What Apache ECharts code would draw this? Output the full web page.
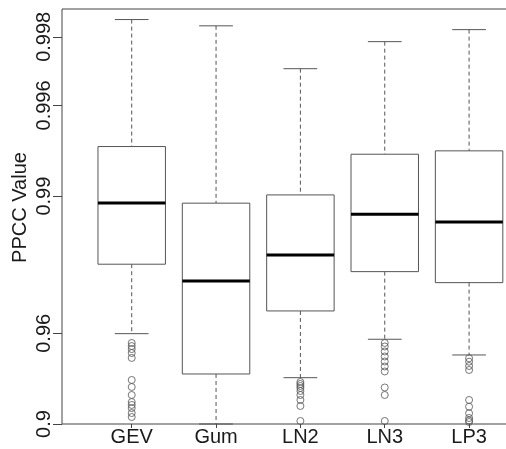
<!DOCTYPE html>
<html><head><meta charset="utf-8">
<script src="https://cdn.jsdelivr.net/npm/echarts@6/dist/echarts.min.js"></script>
<style>html,body{margin:0;padding:0;background:#fff}#c{width:506px;height:449px}</style>
</head><body><div id="c"></div>
<script>
// ---- data (PPCC values) ----
const categories = ['GEV', 'Gum', 'LN2', 'LN3', 'LP3'];
const whiskerLow  = [0.95986, 0.90000, 0.93738, 0.95752, 0.95022];
const quartile1   = [0.98010, 0.93967, 0.96809, 0.97855, 0.97603];
const medians     = [0.98929, 0.97644, 0.98188, 0.98799, 0.98702];
const quartile3   = [0.99394, 0.98926, 0.99012, 0.99345, 0.99367];
const whiskerHigh = [0.99832, 0.99821, 0.99724, 0.99790, 0.99814];
const outliersGEV = [0.9559, 0.9545, 0.9531, 0.9512, 0.9487, 0.9359, 0.9312, 0.9254, 0.9199, 0.9175, 0.9149, 0.9105, 0.9068];
const outliersGum = [];
const outliersLN2 = [0.93459, 0.93325, 0.93189, 0.93050, 0.92836, 0.92541, 0.92154, 0.91663, 0.90299];
const outliersLN3 = [0.9559, 0.95431, 0.95194, 0.94945, 0.94684, 0.94408, 0.94118, 0.93085, 0.92541, 0.90299];
const outliersLP3 = [0.94852, 0.94672, 0.94436, 0.94206, 0.92154, 0.91604, 0.91025, 0.90588, 0.90348, 0.90200];
const yTickValues = [0.9, 0.96, 0.99, 0.996, 0.998];
const yTickLabels = ['0.9', '0.96', '0.99', '0.996', '0.998'];
const yLimits = [0.9, 0.99849];

// ---- scale transform: -ln(1 - p) ----
const tf = p => -Math.log(1 - p);

const boxData = categories.map((c, i) => [i + 1, tf(whiskerLow[i]), tf(quartile1[i]), tf(medians[i]), tf(quartile3[i]), tf(whiskerHigh[i])]);
const allOut = [outliersGEV, outliersGum, outliersLN2, outliersLN3, outliersLP3];
const outData = [];
allOut.forEach((arr, i) => arr.forEach(v => outData.push([i + 1, tf(v)])));

const BOX_W = 0.8, CAP_W = 0.4;
const boxColor = '#555';
const txtColor = '#1a1a1a';
const fontFam = 'Liberation Sans, Arial, sans-serif';

const chart = echarts.init(document.getElementById('c'), null, {renderer: 'canvas'});
chart.setOption({
  animation: false,
  backgroundColor: '#fff',
  grid: {left: 62, top: 9, right: -12, bottom: 25, show: true, borderColor: '#444', borderWidth: 1,
    backgroundColor: 'transparent', containLabel: false, outerBoundsMode: 'none'},
  xAxis: {
    type: 'value', min: 0.1735, max: 5.58,
    splitLine: {show: false}, axisLine: {show: false},
    axisTick: {show: true, length: 4, customValues: [1, 2, 3, 4, 5], lineStyle: {color: '#444'}},
    axisLabel: {customValues: [1, 2, 3, 4, 5], formatter: v => categories[Math.round(v) - 1] || '',
      color: txtColor, fontSize: 20, fontFamily: fontFam, margin: 3}
  },
  yAxis: {
    type: 'value', min: tf(yLimits[0]), max: tf(yLimits[1]),
    name: 'PPCC Value', nameLocation: 'middle', nameGap: 32, nameMoveOverlap: false,
    nameTextStyle: {color: txtColor, fontSize: 20, fontFamily: fontFam, padding: [0, 0, 0, 18]},
    splitLine: {show: false}, axisLine: {show: false},
    axisTick: {show: true, length: 9, customValues: yTickValues.map(tf), lineStyle: {color: '#444'}},
    axisLabel: {customValues: yTickValues.map(tf), rotate: 90, margin: 8,
      color: txtColor, fontSize: 20, fontFamily: fontFam,
      formatter: v => { let b = 0, bd = Infinity; yTickValues.forEach((t, i) => { const d = Math.abs(tf(t) - v); if (d < bd) { bd = d; b = i; } }); return yTickLabels[b]; }}
  },
  series: [
    {
      type: 'custom', data: boxData, encode: {x: 0, y: [1, 2, 3, 4, 5]},
      renderItem: function (params, api) {
        const x = api.value(0);
        const pLo = api.coord([x, api.value(1)]);
        const pQ1 = api.coord([x, api.value(2)]);
        const pMed = api.coord([x, api.value(3)]);
        const pQ3 = api.coord([x, api.value(4)]);
        const pHi = api.coord([x, api.value(5)]);
        const half = api.size([BOX_W, 0])[0] / 2;
        const capHalf = api.size([CAP_W, 0])[0] / 2;
        const cx = pMed[0];
        const dashed = {stroke: boxColor, lineWidth: 1, lineDash: [4, 3], fill: null};
        const solid = {stroke: boxColor, lineWidth: 1, fill: null};
        return {type: 'group', children: [
          {type: 'line', shape: {x1: cx, y1: pHi[1], x2: cx, y2: pQ3[1]}, style: dashed},
          {type: 'line', shape: {x1: cx, y1: pQ1[1], x2: cx, y2: pLo[1]}, style: dashed},
          {type: 'line', shape: {x1: cx - capHalf, y1: pHi[1], x2: cx + capHalf, y2: pHi[1]}, style: solid},
          {type: 'line', shape: {x1: cx - capHalf, y1: pLo[1], x2: cx + capHalf, y2: pLo[1]}, style: solid},
          {type: 'rect', shape: {x: cx - half, y: pQ3[1], width: 2 * half, height: pQ1[1] - pQ3[1]}, style: {fill: '#fff', stroke: boxColor, lineWidth: 1}},
          {type: 'line', shape: {x1: cx - half, y1: pMed[1], x2: cx + half, y2: pMed[1]}, style: {stroke: '#000', lineWidth: 3}}
        ]};
      }
    },
    {
      type: 'scatter', data: outData, symbol: 'circle', symbolSize: 7,
      itemStyle: {color: 'rgba(0,0,0,0)', borderColor: '#555', borderWidth: 1}, z: 3
    }
  ]
});
</script></body></html>
